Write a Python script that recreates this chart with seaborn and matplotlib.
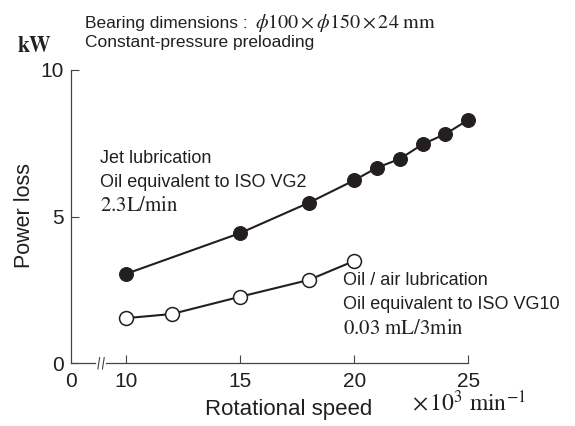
import pandas as pd
import matplotlib
matplotlib.use('Agg')
import matplotlib.pyplot as plt
import seaborn as sns

# Datos (velocidad en x10^3 min^-1, perdida en kW)
jet_speed = [10, 15, 18, 20, 21, 22, 23, 24, 25]
jet_loss = [3.05, 4.44, 5.47, 6.24, 6.67, 6.97, 7.47, 7.82, 8.30]

air_speed = [10, 12, 15, 18, 20]
air_loss = [1.54, 1.68, 2.27, 2.84, 3.49]

x_ticks = [10, 15, 20, 25]
y_ticks = [0, 5, 10]

# posicion del "0" en el eje roto
x_zero_pos = 7.57
x_break_pos = 8.9

sns.set_theme(style='ticks')
plt.rcParams['font.family'] = ['Liberation Sans', 'DejaVu Sans']
plt.rcParams['mathtext.fontset'] = 'stix'

ink = '#231f20'

fig = plt.figure(figsize=(5.75, 4.26), dpi=100)
ax = fig.add_axes([70.7 / 575, 1 - 363.3 / 426, (468.3 - 70.7) / 575, (363.3 - 70) / 426])

jet = pd.DataFrame({'speed': jet_speed, 'loss': jet_loss})
air = pd.DataFrame({'speed': air_speed, 'loss': air_loss})

sns.lineplot(data=jet, x='speed', y='loss', ax=ax, color=ink, linewidth=1.5,
             marker='o', markersize=10, markerfacecolor=ink, markeredgecolor=ink,
             clip_on=False, zorder=3)
sns.lineplot(data=air, x='speed', y='loss', ax=ax, color=ink, linewidth=1.5,
             marker='o', markersize=10, markerfacecolor='white', markeredgecolor=ink,
             markeredgewidth=1.1, clip_on=False, zorder=3)

ax.set_xlim(x_zero_pos, 25)
ax.set_ylim(0, 10)
ax.set_xticks([x_zero_pos] + x_ticks)
ax.set_xticklabels(['0'] + [str(t) for t in x_ticks])
ax.set_yticks(y_ticks)
ax.set_yticklabels([str(t) for t in y_ticks])
ax.tick_params(direction='in', length=6, width=0.8, color='#444444',
               labelsize=15, labelcolor=ink, pad=5)
ax.tick_params(axis='x', pad=6)
ax.xaxis.get_major_ticks()[0].tick1line.set_visible(False)
for side in ['top', 'right']:
    ax.spines[side].set_visible(False)
for side in ['left', 'bottom']:
    ax.spines[side].set_color('#444444')
    ax.spines[side].set_linewidth(0.9)
ax.set_xlabel('')
ax.set_ylabel('')
ax.grid(False)

# marca de corte en el eje x
ax.plot([x_break_pos - 0.12, x_break_pos + 0.12], [0, 0], color='white', linewidth=3,
        clip_on=False, zorder=4)
for dx in (-0.1, 0.1):
    ax.plot([x_break_pos + dx - 0.04, x_break_pos + dx + 0.04], [-0.2, 0.2],
            color='#444444', linewidth=0.8, clip_on=False, zorder=5)

# Titulos y textos
fig.text(17 / 575, 1 - 47 / 426, r'$\mathbf{kW}$', fontsize=15.5, color=ink, va='center')
fig.text(24 / 575, 1 - 215 / 426, 'Power loss', rotation=90, fontsize=15.5,
         color=ink, ha='center', va='center')
fig.text(289 / 575, 1 - 410 / 426, 'Rotational speed', fontsize=16, color=ink,
         ha='center', va='center')
fig.text(412 / 575, 1 - 403 / 426, r'$\times\,10^{3}\ \mathrm{min}^{-1}$', fontsize=17,
         color=ink, va='center')

fig.text(85 / 575, 1 - 28 / 426, 'Bearing dimensions : ', fontsize=12.5, color=ink,
         va='baseline')
fig.text(255 / 575, 1 - 28 / 426, r'$\phi100\times\phi150\times24\ \mathrm{mm}$',
         fontsize=14.5, color=ink, va='baseline')
fig.text(85 / 575, 1 - 47 / 426, 'Constant-pressure preloading', fontsize=12.5,
         color=ink, va='baseline')

fig.text(100 / 575, 1 - 163 / 426, 'Jet lubrication', fontsize=13, color=ink, va='baseline')
fig.text(100 / 575, 1 - 187 / 426, 'Oil equivalent to ISO VG2', fontsize=13, color=ink,
         va='baseline')
fig.text(100 / 575, 1 - 211 / 426, r'$\mathrm{2.3L/min}$', fontsize=15, color=ink,
         va='baseline')

fig.text(343 / 575, 1 - 285 / 426, 'Oil / air lubrication', fontsize=13, color=ink,
         va='baseline')
fig.text(343 / 575, 1 - 309 / 426, 'Oil equivalent to ISO VG10', fontsize=13, color=ink,
         va='baseline')
fig.text(343 / 575, 1 - 334 / 426, r'$\mathrm{0.03\ mL/3min}$', fontsize=15, color=ink,
         va='baseline')

fig.savefig('out.png', dpi=100)
